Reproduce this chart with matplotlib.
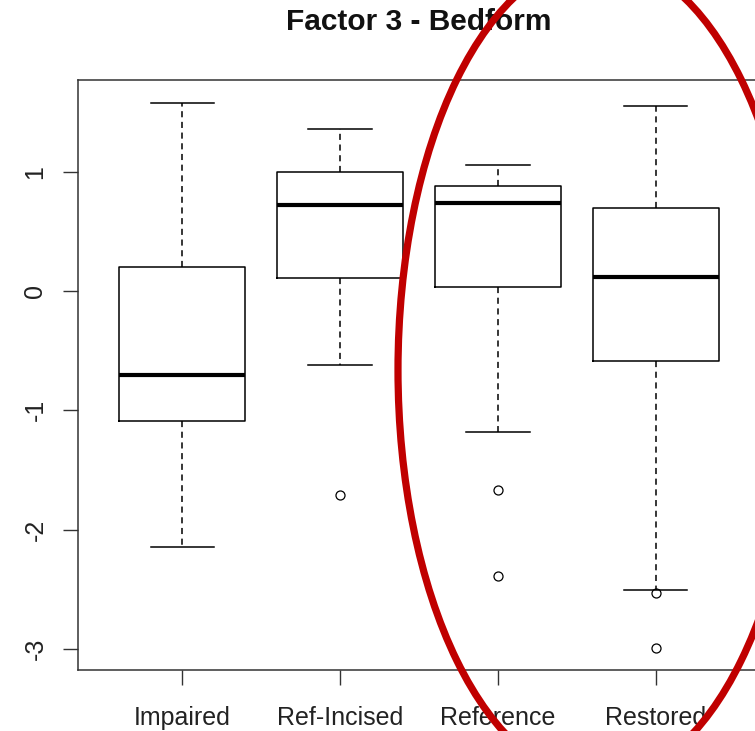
import matplotlib
matplotlib.use("Agg")
import matplotlib.pyplot as plt
from matplotlib.patches import Ellipse

plt.rcParams['font.family'] = ['Liberation Sans', 'DejaVu Sans']

# ── Data ──
groups = ["Impaired", "Ref-Incised", "Reference", "Restored"]
whisker_lo = [-2.15, -0.62, -1.18, -2.51]
q1 = [-1.09, 0.11, 0.03, -0.59]
median = [-0.70, 0.72, 0.74, 0.12]
q3 = [0.20, 1.00, 0.88, 0.70]
whisker_hi = [1.58, 1.36, 1.06, 1.55]
outliers = [[], [-1.71], [-1.67, -2.39], [-2.53, -2.99]]

stats = []
for i, g in enumerate(groups):
    stats.append(dict(label=g, whislo=whisker_lo[i], q1=q1[i], med=median[i],
                      q3=q3[i], whishi=whisker_hi[i], fliers=outliers[i]))

W, H = 755, 731
fig = plt.figure(figsize=(W / 100, H / 100), dpi=100)
fig.patch.set_facecolor("white")
ax = fig.add_axes([78 / W, 1 - 670 / H, (760 - 78) / W, (670 - 80) / H])

lw = 1.1
ax.bxp(stats, positions=range(1, 5), widths=0.8, capwidths=0.4,
       patch_artist=False,
       boxprops=dict(color="black", lw=lw),
       medianprops=dict(color="black", lw=3.0, solid_capstyle="butt"),
       whiskerprops=dict(color="black", lw=lw, ls=(0, (4, 3))),
       capprops=dict(color="black", lw=lw),
       flierprops=dict(marker="o", markerfacecolor="none",
                       markeredgecolor="black", markersize=6.5, mew=0.9))

ax.set_xlim(0.34, 4.66)
ax.set_ylim(-3.177, 1.769)
ax.set_yticks([-3, -2, -1, 0, 1])
ax.set_yticklabels(["-3", "-2", "-1", "0", "1"], rotation=90, va="center")
ax.set_xticks(range(1, 5))
ax.set_xticklabels(groups)
ax.tick_params(axis="both", labelsize=18, length=10.5, width=1.0,
               color="#333333", labelcolor="#222222")
ax.tick_params(axis="x", pad=15.5)
ax.tick_params(axis="y", pad=11.5)
for s in ax.spines.values():
    s.set_linewidth(1.1)
    s.set_color("#333333")

fig.text(419 / W, 1 - 22 / H, "Factor 3 - Bedform", ha="center", va="center",
         fontsize=21.5, weight="bold", color="#111111")

# red highlight ellipse drawn over the chart
ell = Ellipse((599 / W, 1 - 370 / H), 402 / W, 822 / H,
              transform=fig.transFigure, fill=False,
              edgecolor="#C00000", lw=5.2, zorder=10)
fig.add_artist(ell)

fig.savefig("out.png", dpi=100, facecolor="white")
